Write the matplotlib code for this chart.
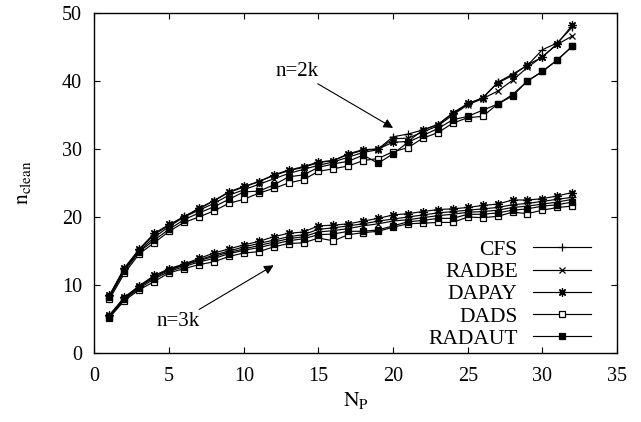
import matplotlib
matplotlib.use("Agg")
import matplotlib.pyplot as plt

plt.rcParams['font.family'] = ['Liberation Serif', 'DejaVu Serif']
plt.rcParams['mathtext.fontset'] = 'stix'

NP = list(range(1, 33))

CFS_2k = [8.4,12.4,15.2,17.4,18.8,20.1,21.2,22.4,23.6,24.4,25.2,26.1,26.8,27.3,28.0,28.3,29.2,29.8,30.0,31.8,32.2,32.8,33.6,35.2,36.6,37.5,39.8,41.0,42.3,44.6,45.6,47.9]
RADBE_2k = [8.3,12.3,15.0,17.0,18.6,20.0,21.0,22.0,23.2,24.0,24.8,25.6,26.4,27.0,27.6,28.1,28.8,29.5,29.9,31.5,31.6,32.5,33.4,35.0,36.5,37.4,38.5,40.1,42.0,43.6,45.4,46.6]
DAPAY_2k = [8.5,12.5,15.3,17.6,18.9,20.0,21.3,22.4,23.7,24.5,25.2,26.2,26.9,27.4,28.1,28.3,29.3,29.9,30.0,31.0,31.1,32.8,33.6,35.3,36.7,37.5,39.7,40.8,42.4,43.5,45.5,48.2]
DADS_2k = [7.9,11.7,14.6,16.2,17.9,19.2,20.0,20.9,22.0,22.6,23.5,24.2,25.0,25.5,26.7,27.1,27.5,28.3,28.6,29.6,30.2,31.6,32.4,33.8,34.6,34.8,36.6,38.0,40.0,41.4,43.1,45.1]
RADAUT_2k = [8.2,12.0,14.9,16.6,18.2,19.6,20.6,21.5,22.6,23.7,23.8,24.7,25.9,26.2,27.3,27.8,28.2,29.1,27.9,29.3,31.0,32.0,33.0,34.3,34.8,35.7,36.6,37.8,40.0,41.4,43.1,45.1]

CFS_3k = [5.5,8.1,9.8,11.3,12.3,13.0,13.7,14.4,15.0,15.6,16.1,16.6,17.1,17.4,18.2,18.4,18.7,19.0,19.4,19.7,20.0,20.3,20.6,20.8,21.0,21.2,21.4,21.8,22.0,22.3,22.6,22.9]
RADBE_3k = [5.4,8.0,9.7,11.1,12.2,12.9,13.6,14.2,14.8,15.3,15.8,16.3,16.8,17.1,17.8,18.0,18.3,18.7,19.0,19.4,19.6,19.9,20.2,20.4,20.7,20.8,21.0,21.4,21.6,21.9,22.2,22.6]
DAPAY_3k = [5.6,8.2,9.9,11.4,12.4,13.1,13.9,14.7,15.3,15.9,16.4,17.1,17.6,17.8,18.7,18.8,19.0,19.4,19.8,20.3,20.5,20.8,21.1,21.2,21.4,21.7,21.9,22.5,22.5,22.7,23.1,23.6]
DADS_3k = [5.2,7.7,9.3,10.5,11.8,12.4,13.0,13.4,14.2,14.7,14.9,15.6,16.1,16.2,16.9,16.5,17.4,17.7,17.9,18.5,19.0,19.1,19.2,19.2,20.0,19.9,20.1,20.7,20.5,21.0,21.4,21.6]
RADAUT_3k = [5.3,7.9,9.5,10.9,12.0,12.7,13.4,13.9,14.6,15.1,15.5,16.0,16.5,16.8,17.4,17.5,17.9,17.9,18.1,18.7,19.3,19.5,19.8,19.8,20.4,20.4,20.6,21.0,21.2,21.6,21.8,22.2]

methods = ['CFS', 'RADBE', 'DAPAY', 'DADS', 'RADAUT']
series_2k = [CFS_2k, RADBE_2k, DAPAY_2k, DADS_2k, RADAUT_2k]
series_3k = [CFS_3k, RADBE_3k, DAPAY_3k, DADS_3k, RADAUT_3k]
xticks = [0, 5, 10, 15, 20, 25, 30, 35]
yticks = [0, 10, 20, 30, 40, 50]

styles = [
    dict(marker='+', markersize=6, mfc='black', mew=0.9),
    dict(marker='x', markersize=5, mfc='black', mew=0.9),
    dict(marker=(8, 2, 0), markersize=6, mfc='black', mew=0.9),
    dict(marker='s', markersize=4.5, mfc='white', mew=0.9),
    dict(marker='s', markersize=4.5, mfc='black', mew=0.9),
]

fig = plt.figure(figsize=(6.41, 4.22), dpi=100)
ax = fig.add_axes([0.1474, 0.1635, 0.8152, 0.8057])

for name, y2, y3, st in zip(methods, series_2k, series_3k, styles):
    ax.plot(NP, y2, color='black', lw=0.85, mec='black', label=name, **st)
    ax.plot(NP, y3, color='black', lw=0.85, mec='black', **st)

ax.set_xlim(0, 35)
ax.set_ylim(0, 50)
ax.set_xticks(xticks)
ax.set_yticks(yticks)
ax.tick_params(direction='in', top=True, right=True, length=4, width=0.8, labelsize=14.5)
ax.tick_params(axis='x', pad=10)
ax.tick_params(axis='y', pad=9)
for s in ax.spines.values():
    s.set_linewidth(1.0)

ax.set_xlabel(r'$\mathrm{N}_{\mathrm{P}}$', fontsize=15.5, labelpad=3)
ax.set_ylabel(r'$\mathrm{n}_{\mathrm{clean}}$', fontsize=15.5, labelpad=21)

arrow = dict(arrowstyle='-|>', lw=0.8, color='black', mutation_scale=14, shrinkA=0, shrinkB=0)
ax.annotate('n=2k', xy=(20.0, 33.1), xytext=(15.0, 40.0), arrowprops=arrow,
            fontsize=15, ha='right', va='bottom')
ax.annotate('n=3k', xy=(12.0, 12.9), xytext=(7.07, 4.6), arrowprops=arrow,
            fontsize=15, ha='right', va='center')

ax.legend(loc='lower right', bbox_to_anchor=(0.95, 0.012), frameon=False,
          markerfirst=False, fontsize=15.5, handlelength=2.7, handletextpad=0.7,
          labelspacing=0.1, borderpad=0, borderaxespad=0)

fig.savefig('out.png', dpi=100)
